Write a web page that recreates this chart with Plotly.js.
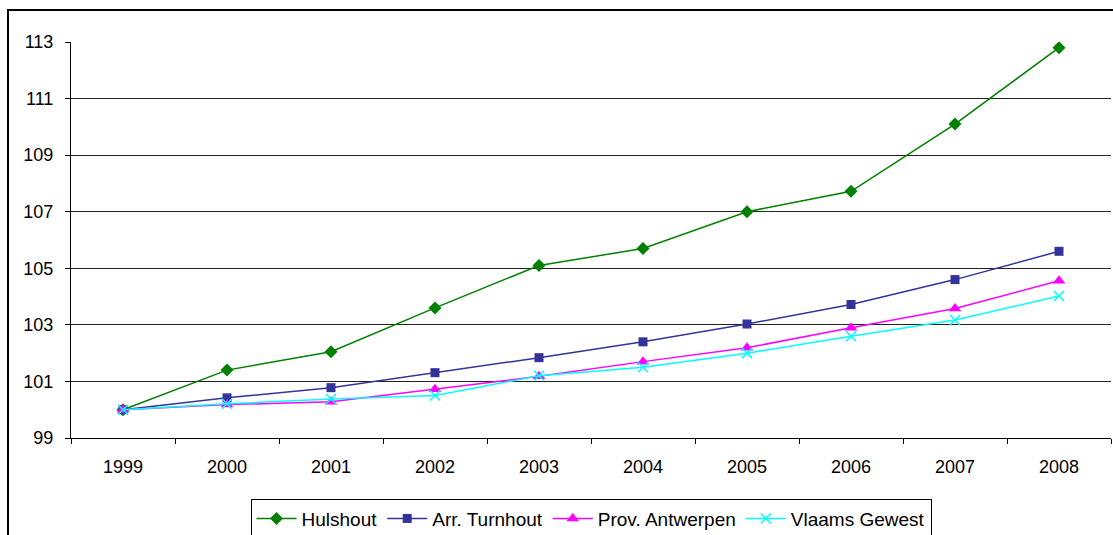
<!DOCTYPE html>
<html>
<head>
<meta charset="utf-8">
<script src="https://cdn.plot.ly/plotly-3.0.1.min.js"></script>
<style>
  html, body { margin: 0; padding: 0; background: #fff; overflow: hidden; }
  #wrap { position: relative; width: 1113px; height: 535px; }
  #frame { position: absolute; left: 7px; top: 9px; width: 1200px; height: 600px;
           border-left: 2px solid #000; border-top: 2px solid #000; pointer-events: none; }
  #chart { position: absolute; left: 0; top: 0; width: 1113px; height: 535px; }
</style>
</head>
<body>
<div id="wrap">
  <div id="chart"></div>
  <div id="frame"></div>
</div>
<script>
// Index (1999 = 100)
const years = ['1999', '2000', '2001', '2002', '2003', '2004', '2005', '2006', '2007', '2008'];
const hulshout = [100, 101.4, 102.05, 103.6, 105.1, 105.7, 107.0, 107.72, 110.1, 112.8];
const arrTurnhout = [100, 100.42, 100.78, 101.31, 101.84, 102.4, 103.03, 103.72, 104.6, 105.6];
const provAntwerpen = [100, 100.18, 100.28, 100.72, 101.18, 101.7, 102.19, 102.9, 103.58, 104.56];
const vlaamsGewest = [100, 100.21, 100.38, 100.5, 101.2, 101.5, 102.0, 102.6, 103.17, 104.02];
const yTicks = [99, 101, 103, 105, 107, 109, 111, 113];

const FONT = 'Liberation Sans, Arial, sans-serif';
const FSIZE = 18;

function series(name, y, color, symbol, size, extra) {
  return Object.assign({
    type: 'scatter', mode: 'lines+markers', name: name, x: years, y: y,
    line: { color: color, width: 1.5 },
    marker: { symbol: symbol, size: size, color: color, line: { color: color, width: 0 } }
  }, extra || {});
}

const data = [
  series('Hulshout', hulshout, '#008000', 'diamond', 10),
  series('Arr. Turnhout', arrTurnhout, '#333399', 'square', 9),
  series('Prov. Antwerpen', provAntwerpen, '#FF00FF', 'triangle-up', 11),
  series('Vlaams Gewest', vlaamsGewest, '#00FFFF', 'x-thin-open', 10,
    { marker: { symbol: 'x-thin-open', size: 10, color: '#00FFFF', line: { color: '#00FFFF', width: 1.5 } } })
];

const layout = {
  width: 1113, height: 535,
  margin: { l: 71, r: 2, t: 42, b: 97, pad: 0, autoexpand: false },
  paper_bgcolor: '#ffffff', plot_bgcolor: '#ffffff',
  font: { family: FONT, size: FSIZE, color: '#000' },
  showlegend: true,
  legend: {
    orientation: 'h', x: 0.5, xanchor: 'center', y: -0.153, yanchor: 'top',
    bordercolor: '#000', borderwidth: 1, bgcolor: '#fff',
    font: { family: FONT, size: 19, color: '#000' },
    itemwidth: 40,
    itemclick: false
  },
  xaxis: {
    type: 'category', categoryorder: 'array', categoryarray: years,
    range: [-0.5, years.length - 0.5], autorange: false,
    automargin: false,
    showline: true, linecolor: '#000', linewidth: 1,
    ticks: 'outside', ticklen: 5, tickcolor: '#000', tickson: 'boundaries',
    showgrid: false, zeroline: false,
    tickfont: { family: FONT, size: FSIZE, color: '#000' },
    ticklabelstandoff: 12
  },
  yaxis: {
    range: [99, 113], autorange: false,
    tickmode: 'array', tickvals: yTicks, ticktext: yTicks.map(String),
    automargin: false,
    showline: true, linecolor: '#000', linewidth: 1,
    ticks: 'outside', ticklen: 5, tickcolor: '#000',
    showgrid: true, gridcolor: '#222', gridwidth: 1, zeroline: false,
    tickfont: { family: FONT, size: FSIZE, color: '#000' },
    ticklabelstandoff: 8
  }
};

Plotly.newPlot('chart', data, layout, { displayModeBar: false, staticPlot: true });
</script>
</body>
</html>
